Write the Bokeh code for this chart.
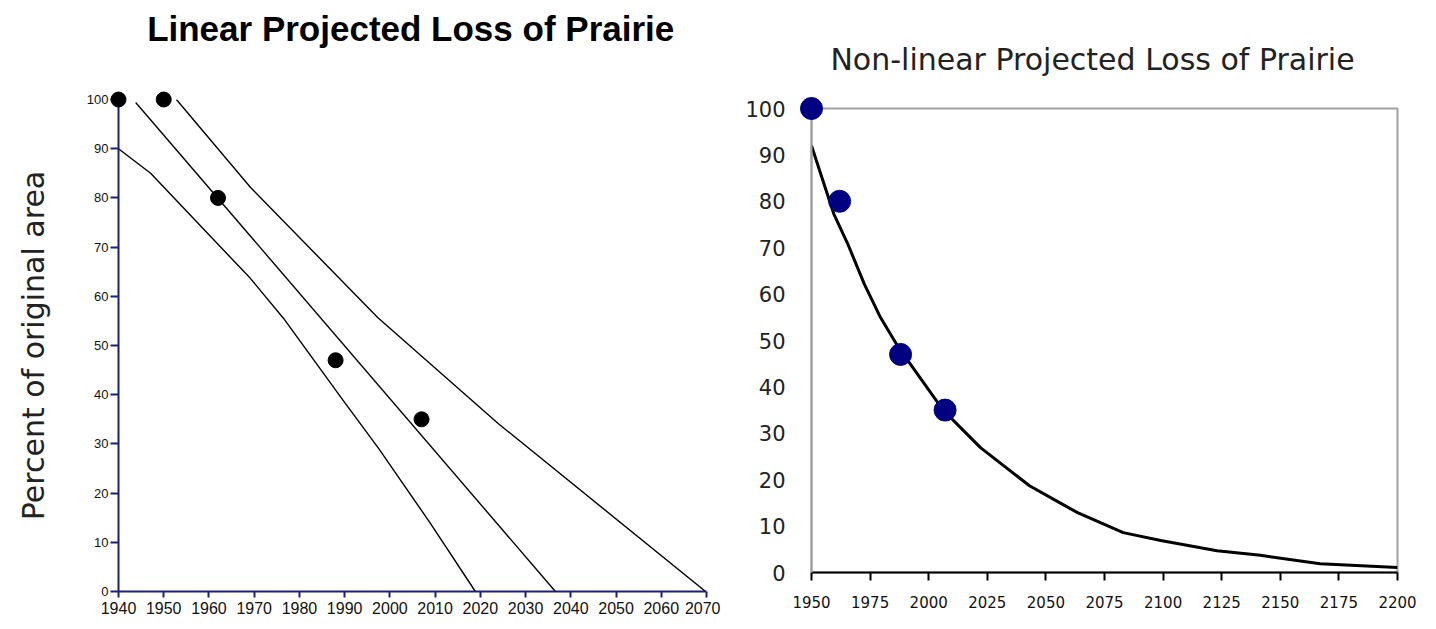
from bokeh.plotting import figure
from bokeh.models import Range1d, SingleIntervalTicker
from bokeh.core.properties import value
from bokeh.layouts import row
from bokeh.embed import file_html
from bokeh.resources import INLINE

# ---------------- data ----------------
# Left: linear projections
lin_pt_year = [1940, 1950, 1962, 1988, 2007]
lin_pt_pct = [100, 100, 80, 47, 35]

low_year = [1940, 1947.1, 1969.2, 1976.5, 1989.7, 1997.5, 2009.0, 2018.9]
low_pct = [90, 85.0, 63.6, 55.5, 38.8, 29.1, 13.8, 0]

mid_year = [1943.8, 2036.6]
mid_pct = [99.4, 0]

up_year = [1952.8, 1969.2, 1997.3, 2024.0, 2069.8]
up_pct = [100, 82.1, 55.7, 34.1, 0]

# Right: non-linear projection
nl_pt_year = [1950, 1962, 1988, 2007]
nl_pt_pct = [100, 80, 47, 35]

curve_year = [1950, 1959.5, 1965.4, 1972.5, 1979.4, 1987.1, 2006.3, 2022.1,
              2043, 2056, 2063.5, 2083, 2099, 2123, 2141.5, 2167, 2200]
curve_pct = [92, 77.3, 70.9, 62.2, 55.0, 48.5, 34.9, 26.9,
             18.7, 15, 12.9, 8.6, 6.9, 4.7, 3.7, 1.9, 1.1]

titles = ["Linear Projected Loss of Prairie", "Non-linear Projected Loss of Prairie"]

NAVY_AXIS = "#1f1f78"
H = 629

# ---------------- left figure ----------------
p1 = figure(width=720, height=H, output_backend="svg", toolbar_location=None,
            x_range=Range1d(1940, 2070), y_range=Range1d(0, 100),
            min_border_left=118, min_border_right=14, min_border_top=99,
            min_border_bottom=38)
p1.frame_align = False
p1.outline_line_color = None
p1.xgrid.visible = False
p1.ygrid.visible = False

for ax in (p1.xaxis[0], p1.yaxis[0]):
    ax.axis_line_color = NAVY_AXIS
    ax.axis_line_width = 2
    ax.major_tick_line_color = NAVY_AXIS
    ax.major_tick_line_width = 2
    ax.major_tick_in = 0
    ax.minor_tick_line_color = None
    ax.major_label_text_color = "#111111"
    ax.major_label_text_font = "Liberation Sans"

p1.xaxis.ticker = SingleIntervalTicker(interval=10)
p1.xaxis.major_tick_out = 6
p1.xaxis.major_label_standoff = 4
p1.xaxis.major_label_text_font_size = "16px"

p1.yaxis.ticker = SingleIntervalTicker(interval=10)
p1.yaxis.major_tick_out = 8
p1.yaxis.major_label_standoff = 2
p1.yaxis.major_label_text_font_size = "13px"
p1.yaxis.axis_label = "Percent of original area"
p1.yaxis.axis_label_text_font = "DejaVu Sans"
p1.yaxis.axis_label_text_font_size = "30px"
p1.yaxis.axis_label_text_font_style = "normal"
p1.yaxis.axis_label_text_color = "#222222"
p1.yaxis.axis_label_standoff = 33

for xs, ys in ((low_year, low_pct), (mid_year, mid_pct), (up_year, up_pct)):
    p1.line(xs, ys, line_color="#000000", line_width=1.4)

p1.scatter(lin_pt_year, lin_pt_pct, size=15, fill_color="#000000",
           line_color="#000000", level="overlay")

p1.text(x=[2004.6], y=[114.5], text=[titles[0]], text_align="center",
        text_baseline="middle", text_font=value("Liberation Sans"),
        text_font_size="35px", text_font_style="bold", text_color="#000000",
        level="overlay")

# ---------------- right figure ----------------
p2 = figure(width=716, height=H, output_backend="svg", toolbar_location=None,
            x_range=Range1d(1950, 2200), y_range=Range1d(0, 100),
            min_border_left=91, min_border_right=39, min_border_top=108,
            min_border_bottom=57)
p2.frame_align = False
p2.outline_line_color = "#a0a0a0"
p2.outline_line_width = 2
p2.xgrid.visible = False
p2.ygrid.visible = False

p2.xaxis.ticker = SingleIntervalTicker(interval=25)
p2.xaxis.axis_line_color = "#000000"
p2.xaxis.axis_line_width = 2
p2.xaxis.major_tick_line_color = "#000000"
p2.xaxis.major_tick_line_width = 2
p2.xaxis.major_tick_in = 0
p2.xaxis.major_tick_out = 8
p2.xaxis.minor_tick_line_color = None
p2.xaxis.major_label_standoff = 15
p2.xaxis.major_label_text_font = "DejaVu Sans"
p2.xaxis.major_label_text_font_size = "15px"
p2.xaxis.major_label_text_color = "#111111"

p2.yaxis.ticker = SingleIntervalTicker(interval=10)
p2.yaxis.axis_line_color = "#a0a0a0"
p2.yaxis.axis_line_width = 2
p2.yaxis.major_tick_line_color = None
p2.yaxis.minor_tick_line_color = None
p2.yaxis.major_tick_in = 0
p2.yaxis.major_tick_out = 0
p2.yaxis.major_label_standoff = 22
p2.yaxis.major_label_text_font = "DejaVu Sans"
p2.yaxis.major_label_text_font_size = "21px"
p2.yaxis.major_label_text_color = "#222222"

p2.line(curve_year, curve_pct, line_color="#000000", line_width=3)
p2.scatter(nl_pt_year, nl_pt_pct, size=22, fill_color="#000080",
           line_color="#000080", level="overlay")

p2.text(x=[2069.9], y=[110.5], text=[titles[1]], text_align="center",
        text_baseline="middle", text_font=value("DejaVu Sans"),
        text_font_size="30px", text_color="#222222", level="overlay")

layout = row(p1, p2, spacing=0)
open("out.html", "w").write(file_html(layout, INLINE))
